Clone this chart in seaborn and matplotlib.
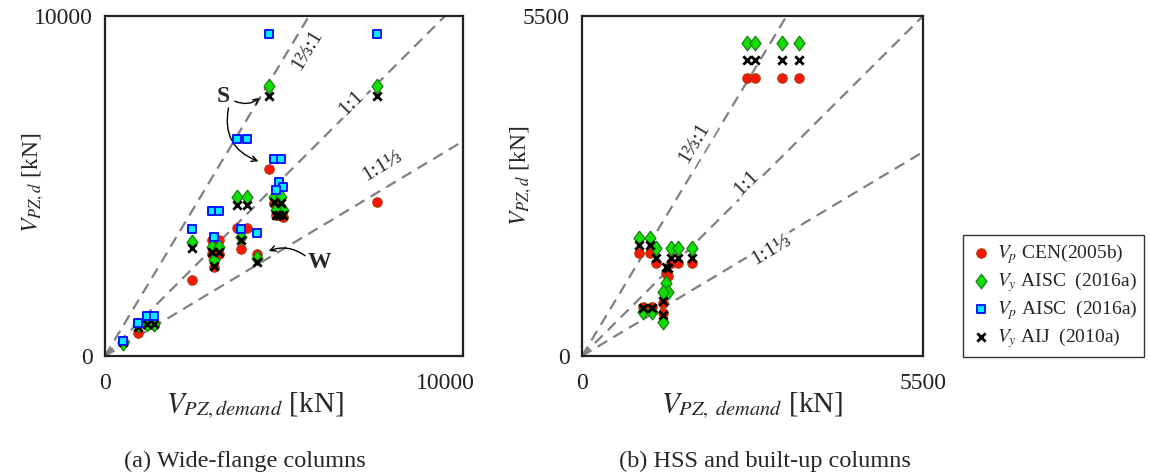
import numpy as np
import pandas as pd
import matplotlib
matplotlib.use("Agg")
import matplotlib.pyplot as plt
import seaborn as sns

# ---------------- data (kN) ----------------
# (a) wide-flange columns
wf_demand   = [530, 970, 1240, 1440, 2560, 3150, 3350, 3200, 3880, 4180, 4000, 4470, 4820, 8000, 4970, 5180, 5120, 5240, 5030]
wf_vp_cen   = [400, 680, 900, 900, 2240, 3410, 3410, 2620, 3760, 3760, 3150, 3000, 5500, 4530, 4500, 4150, 4150, 4090, 4150]
wf_vy_aisc  = [380, 900, 940, 940, 3350, 3200, 3200, 2820, 4680, 4680, 3500, 2880, 7940, 7940, 4680, 4680, 4290, 4290, 4290]
wf_vp_aisc  = [440, 970, 1180, 1180, 3740, 4260, 4260, 3500, 6380, 6380, 3740, 3620, 9470, 9470, 5790, 5790, 5120, 4970, 4880]
wf_vy_aij   = [410, 850, 940, 940, 3180, 3060, 3060, 2650, 4440, 4440, 3410, 2760, 7650, 7650, 4530, 4500, 4150, 4150, 4150]
wf_extra_cen_x = [3150, 3350]
wf_extra_cen_y = [3000, 3000]

# (b) HSS and built-up columns
hss_demand  = [920, 1100, 1190, 1440, 1550, 1770, 1350, 1380, 1310, 1310, 980, 1130, 2660, 2790, 3230, 3500]
hss_vp_cen  = [1670, 1670, 1500, 1500, 1500, 1500, 1340, 1300, 860, 700, 800, 800, 4500, 4500, 4500, 4500]
hss_vy_aisc = [1910, 1910, 1750, 1750, 1750, 1750, 1180, 1040, 1040, 550, 710, 710, 5060, 5060, 5060, 5060]
hss_vy_aij  = [1800, 1800, 1590, 1590, 1590, 1590, 1440, 1420, 890, 660, 780, 780, 4790, 4790, 4790, 4790]

ratios = [5/3, 1.0, 0.6]
ratio_labels = ["1⅔:1", "1:1", "1:1⅓"]
series_labels = [r"$V_p$ CEN(2005b)", r"$V_y$ AISC  (2016a)",
                 r"$V_p$ AISC  (2016a)", r"$V_y$ AIJ  (2010a)"]
panel_titles = ["(a) Wide-flange columns", "(b) HSS and built-up columns"]

# ---------------- style ----------------
sns.set_style("white")
plt.rcParams["font.family"] = ["Liberation Serif", "DejaVu Serif"]
plt.rcParams["mathtext.fontset"] = "stix"

fig = plt.figure(figsize=(11.49, 4.74), dpi=100)
W, H = 1149, 474
axL = fig.add_axes([105 / W, 118 / H, 358 / W, 340 / H])
axR = fig.add_axes([582 / W, 118 / H, 341 / W, 340 / H])

diamond = [(0, 1), (0.74, 0), (0, -1), (-0.74, 0), (0, 1)]
RED = dict(marker="o", s=46, color="#ff1500", edgecolor="#a83a10", linewidth=0.8, zorder=3)
GRN = dict(marker=diamond, s=115, color="#11dd00", edgecolor="#117711", linewidth=0.8, zorder=4)
BLU = dict(marker="s", s=30, color="#00eeff", edgecolor="#0015ff", linewidth=1.4, zorder=6)
BLK = dict(marker="x", s=36, color="black", linewidth=2.0, zorder=5)


def draw_lines(ax, lim_x, lim_y):
    for r in ratios:
        xe = min(lim_x, lim_y / r)
        ax.plot([0, xe], [0, r * xe], ls=(0, (5, 3.2)), color="#808080", lw=1.6, zorder=1)


def frame(ax, xmax_lim, ylim, xtick, ytick):
    ax.set_xlim(0, xmax_lim)
    ax.set_ylim(0, ylim)
    ax.set_xticks([0, xtick])
    ax.set_xticklabels(["0", str(xtick)])
    ax.set_yticks([0, ytick])
    ax.set_yticklabels(["0", str(ytick)])
    ax.tick_params(length=0, labelsize=17, colors="#222222")
    ax.tick_params(axis="x", pad=12)
    ax.tick_params(axis="y", pad=9)
    for sp in ax.spines.values():
        sp.set_linewidth(1.6)
        sp.set_color("#222222")
        sp.set_visible(True)


# ---------- left panel ----------
xL = 10000 * 358 / 340
frame(axL, xL, 10000, 10000, 10000)
draw_lines(axL, xL, 10000)
sns.scatterplot(x=wf_demand, y=wf_vp_cen, ax=axL, label=series_labels[0], **RED)
sns.scatterplot(x=wf_extra_cen_x, y=wf_extra_cen_y, ax=axL, **RED)
sns.scatterplot(x=wf_demand, y=wf_vy_aisc, ax=axL, label=series_labels[1], **GRN)
sns.scatterplot(x=wf_demand, y=wf_vp_aisc, ax=axL, label=series_labels[2], **BLU)
sns.scatterplot(x=wf_demand, y=wf_vy_aij, ax=axL, label=series_labels[3], **BLK)

axL.set_xlabel(r"$V_{PZ,demand}$ [kN]", fontsize=21)
axL.set_ylabel(r"$V_{PZ,d}$ [kN]", fontsize=17)
axL.xaxis.set_label_coords(150 / 358, -0.10)
axL.yaxis.set_label_coords(-0.165, 0.51)

bbox = dict(boxstyle="square,pad=0.15", fc="white", ec="none", alpha=0.9)
fs_r = 15.5
axL.text(5950, 9000, ratio_labels[0], rotation=59, ha="center", va="center", fontsize=fs_r, bbox=bbox, zorder=2)
axL.text(7250, 7450, ratio_labels[1], rotation=45, ha="center", va="center", fontsize=fs_r, bbox=bbox, zorder=2)
axL.text(8150, 5600, ratio_labels[2], rotation=31, ha="center", va="center", fontsize=fs_r, bbox=bbox, zorder=2)

axL.text(3470, 7620, "S", fontsize=17, fontweight="bold", ha="center", va="center")
axL.annotate("", xy=(4620, 7650), xytext=(3740, 7530),
             arrowprops=dict(arrowstyle="->", color="k", lw=1, connectionstyle="arc3,rad=0.35"))
axL.annotate("", xy=(4590, 5700), xytext=(3650, 7380),
             arrowprops=dict(arrowstyle="->", color="k", lw=1, connectionstyle="arc3,rad=0.45"))
axL.text(6320, 2760, "W", fontsize=17, fontweight="bold", ha="center", va="center")
axL.annotate("", xy=(4740, 3060), xytext=(5950, 2900),
             arrowprops=dict(arrowstyle="->", color="k", lw=1, connectionstyle="arc3,rad=0.3"))

# ---------- right panel ----------
frame(axR, 5500, 5500, 5500, 5500)
draw_lines(axR, 5500, 5500)
sns.scatterplot(x=hss_demand, y=hss_vp_cen, ax=axR, **RED)
sns.scatterplot(x=hss_demand, y=hss_vy_aisc, ax=axR, **GRN)
sns.scatterplot(x=hss_demand, y=hss_vy_aij, ax=axR, **BLK)

axR.set_xlabel(r"$V_{PZ,\ demand}$ [kN]", fontsize=21)
axR.set_ylabel(r"$V_{PZ,d}$ [kN]", fontsize=17)
axR.xaxis.set_label_coords(0.5, -0.10)
axR.yaxis.set_label_coords(-0.14, 0.53)

axR.text(1820, 3450, ratio_labels[0], rotation=59, ha="center", va="center", fontsize=fs_r, bbox=bbox, zorder=2)
axR.text(2650, 2800, ratio_labels[1], rotation=45, ha="center", va="center", fontsize=fs_r, bbox=bbox, zorder=2)
axR.text(3050, 1720, ratio_labels[2], rotation=31, ha="center", va="center", fontsize=fs_r, bbox=bbox, zorder=2)

for ax in (axL, axR):
    lg = ax.get_legend()
    if lg is not None:
        lg.remove()

handles, labels = axL.get_legend_handles_labels()
order = [labels.index(l) for l in series_labels]
leg = fig.legend([handles[i] for i in order], [labels[i] for i in order],
                 loc="lower left", bbox_to_anchor=(963 / W, 117 / H),
                 fontsize=14, frameon=True, fancybox=False, edgecolor="black",
                 handletextpad=0.3, labelspacing=0.22, borderpad=0.35, handlelength=1.1,
                 borderaxespad=0)
leg.get_frame().set_linewidth(1.0)

fig.text(245 / W, 1 - 461 / H, panel_titles[0], ha="center", va="center", fontsize=17.5)
fig.text(765 / W, 1 - 461 / H, panel_titles[1], ha="center", va="center", fontsize=17.5)

fig.savefig("out.png", dpi=100)
